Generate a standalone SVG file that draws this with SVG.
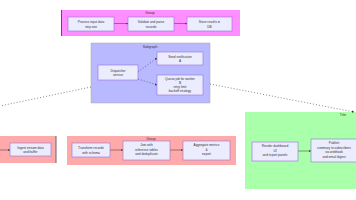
<svg xmlns="http://www.w3.org/2000/svg" width="356" height="200" viewBox="0 0 356 200">
<defs>
<style>
.n rect{fill:#ececff;stroke:#9370db;stroke-width:0.6}
.t{font-family:"Liberation Sans",Arial,sans-serif;font-size:3.2px;fill:#333;text-anchor:middle}
.st{font-family:"Liberation Sans",Arial,sans-serif;font-size:3.4px;fill:#333;text-anchor:middle}
.e{stroke:#333;stroke-width:0.5;fill:none;marker-end:url(#ah)}
.d{stroke:#333;stroke-width:0.6;fill:none;stroke-dasharray:1 2}
</style>
<marker id="ah" viewBox="0 0 10 10" refX="9" refY="5" markerWidth="4" markerHeight="4" orient="auto"><path d="M0,0L10,5L0,10z" fill="#333"/></marker>
</defs>
<rect width="356" height="200" fill="#fff"/>
<g id="sg-top"><rect x="61" y="10" width="179" height="26" fill="#ff8eff" stroke="#555" stroke-width="0"/><line x1="61.5" y1="10" x2="61.5" y2="36" stroke="#555" stroke-width="1"/><text class="st" x="150" y="13.5">Group</text></g>
<g id="sg-mid"><rect x="91" y="43" width="119" height="60" fill="#b9b9ff" stroke="#aaa" stroke-width="0.5"/><text class="st" x="150" y="47.5">Subgraph</text></g>
<g id="sg-bl"><rect x="0" y="136" width="56" height="27" fill="#ffaaaa"/><line x1="56" y1="136" x2="56" y2="163" stroke="#666" stroke-width="1"/></g>
<g id="sg-bm"><rect x="67" y="136" width="169" height="29" fill="#ffaaaa"/><text class="st" x="151" y="139.5">Group</text></g>
<g id="sg-green"><rect x="245" y="112" width="111" height="77" fill="#aaffaa"/><text class="st" x="343" y="115.5">Title</text></g>
<g id="connectors">
<line class="e" x1="114" y1="23.5" x2="128" y2="23.5"/>
<line class="e" x1="174" y1="23.5" x2="187" y2="23.5"/>
<path class="d" d="M138,72 L157,58" marker-end="url(#ah)"/>
<path class="d" d="M138,79 L157,85" marker-end="url(#ah)"/>
<path class="d" d="M91,87 L0,106"/>
<path class="d" d="M210,84 L354,112" marker-end="url(#ah)"/>
<line class="e" x1="0" y1="150" x2="10" y2="150"/>
<line class="e" x1="110" y1="150" x2="123" y2="150"/>
<line class="e" x1="170" y1="150" x2="183" y2="150"/>
<line class="e" x1="298" y1="151" x2="311" y2="151"/>
</g>
<g id="n1" class="n"><rect x="68" y="17" width="46" height="14"/><text class="t" x="91" y="23">Process input data</text><text class="t" x="91" y="27.5">step one</text></g>
<g id="n2" class="n"><rect x="128" y="17" width="46" height="14"/><text class="t" x="151" y="23">Validate and parse</text><text class="t" x="151" y="27.5">records</text></g>
<g id="n3" class="n"><rect x="187" y="17" width="45" height="14"/><text class="t" x="209.5" y="23">Store results in</text><text class="t" x="209.5" y="27.5">DB</text></g>
<g id="n4" class="n"><rect x="98" y="65" width="40" height="15"/><text class="t" x="118" y="71.5">Dispatcher</text><text class="t" x="118" y="76">service</text></g>
<g id="n5" class="n"><rect x="157" y="52" width="46" height="13"/><text class="t" x="180" y="57.5">Send notification</text><text class="t" x="180" y="62">A</text></g>
<g id="n6" class="n"><rect x="157" y="75" width="46" height="20"/><text class="t" x="180" y="79.5">Queue job for worker</text><text class="t" x="180" y="83.5">B</text><text class="t" x="180" y="87.5">retry limit</text><text class="t" x="180" y="91.5">backoff strategy</text></g>
<g id="n7" class="n"><rect x="10" y="143" width="41" height="13"/><text class="t" x="30.5" y="148.5">Ingest stream data</text><text class="t" x="30.5" y="153">and buffer</text></g>
<g id="n8" class="n"><rect x="72" y="143" width="38" height="14"/><text class="t" x="91" y="149">Transform records</text><text class="t" x="91" y="153.5">with schema</text></g>
<g id="n9" class="n"><rect x="123" y="141" width="47" height="19"/><text class="t" x="146.5" y="146">Join with</text><text class="t" x="146.5" y="150.5">reference tables</text><text class="t" x="146.5" y="155">and deduplicate</text></g>
<g id="n10" class="n"><rect x="183" y="141" width="47" height="19"/><text class="t" x="206.5" y="146">Aggregate metrics</text><text class="t" x="206.5" y="150.5">&amp;</text><text class="t" x="206.5" y="155">export</text></g>
<g id="n11" class="n"><rect x="252" y="142" width="46" height="19"/><text class="t" x="275" y="147">Render dashboard</text><text class="t" x="275" y="151.5">UI</text><text class="t" x="275" y="156">and report panels</text></g>
<g id="n12" class="n"><rect x="311" y="139" width="46" height="23"/><text class="t" x="334" y="144">Publish</text><text class="t" x="334" y="148.5">summary to subscribers</text><text class="t" x="334" y="153">via webhook</text><text class="t" x="334" y="157.5">and email digest</text></g>
</svg>
